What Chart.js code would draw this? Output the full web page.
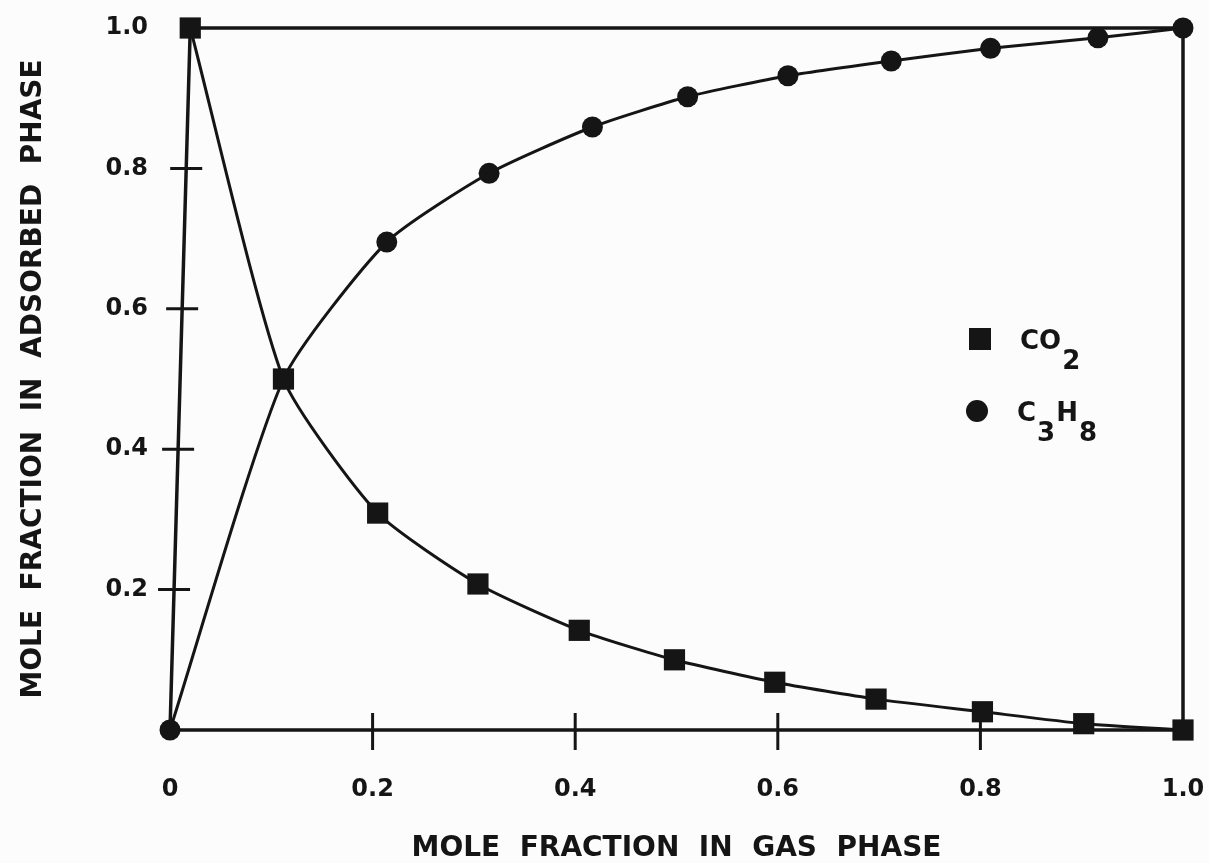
<!DOCTYPE html>
<html>
<head>
<meta charset="utf-8">
<script src="https://cdn.jsdelivr.net/npm/chart.js@4"></script>
<style>
  html, body { margin: 0; padding: 0; background: #fcfcfc; }
  #wrap { width: 1209px; height: 863px; }
</style>
</head>
<body>
<div id="wrap"><canvas id="chart" width="1209" height="863"></canvas></div>
<script>
// values
const co2X = [0.02, 0.112, 0.205, 0.304, 0.404, 0.498, 0.597, 0.697, 0.802, 0.902, 1.0];
const co2Y = [1.0, 0.50, 0.309, 0.208, 0.142, 0.100, 0.068, 0.044, 0.026, 0.009, 0.0];
const c3h8X = [0.0, 0.112, 0.214, 0.315, 0.417, 0.511, 0.61, 0.712, 0.81, 0.916, 1.0];
const c3h8Y = [0.0, 0.50, 0.695, 0.793, 0.859, 0.902, 0.932, 0.953, 0.971, 0.986, 1.0];

// the box round the plot: left side leans from (0,0) up to (0.02,1)
const frameX = [0.0, 0.02, 1.0, 1.0, 0.0];
const frameY = [0.0, 1.0, 1.0, 0.0, 0.0];

const xTickLabels = ['0', '0.2', '0.4', '0.6', '0.8', '1.0'];
const yTickLabels = ['', '0.2', '0.4', '0.6', '0.8', '1.0'];
const tickMarks = [0.2, 0.4, 0.6, 0.8];

const ink = '#151515';
const fontFamily = '"DejaVu Sans", sans-serif';

const toPoints = (xs, ys) => xs.map((x, i) => ({ x: x, y: ys[i] }));

// tick marks that cross the axis lines
const crossTicks = {
    id: 'crossTicks',
    beforeDatasetsDraw(chart) {
        const { ctx, scales } = chart;
        const xs = scales.x, ys = scales.y;
        ctx.save();
        ctx.strokeStyle = ink;
        ctx.lineWidth = 3;
        tickMarks.forEach(v => {
            // y ticks sit on the leaning left side
            const py = ys.getPixelForValue(v);
            const px = xs.getPixelForValue(frameX[1] * v);
            ctx.beginPath();
            ctx.moveTo(px - 16, py);
            ctx.lineTo(px + 16, py);
            ctx.stroke();

            const qx = xs.getPixelForValue(v);
            const qy = ys.getPixelForValue(0);
            ctx.beginPath();
            ctx.moveTo(qx, qy - 17);
            ctx.lineTo(qx, qy + 20);
            ctx.stroke();
        });
        ctx.restore();
    }
};

// legend inside the plot, with subscripts
const formulaLegend = {
    id: 'formulaLegend',
    afterDatasetsDraw(chart) {
        const { ctx } = chart;
        const items = [
            { style: 'rect', x: 980, y: 339, parts: [['CO', 0], ['2', 1]] },
            { style: 'circle', x: 977, y: 411, parts: [['C', 0], ['3', 1], ['H', 0], ['8', 1]] }
        ];
        ctx.save();
        ctx.fillStyle = ink;
        items.forEach(it => {
            ctx.beginPath();
            if (it.style === 'rect') {
                ctx.rect(it.x - 11, it.y - 11, 22, 22);
            } else {
                ctx.arc(it.x, it.y, 11, 0, Math.PI * 2);
            }
            ctx.fill();

            ctx.font = 'bold 26px ' + fontFamily;
            ctx.textBaseline = 'alphabetic';
            let tx = it.x + 40;
            it.parts.forEach(p => {
                const dy = p[1] ? 20 : 0;
                ctx.fillText(p[0], tx, it.y + 10 + dy);
                tx += ctx.measureText(p[0]).width + 1;
            });
        });
        ctx.restore();
    }
};

const paper = {
    id: 'paper',
    beforeDraw(chart) {
        const { ctx, width, height } = chart;
        ctx.save();
        ctx.fillStyle = '#fcfcfc';
        ctx.fillRect(0, 0, width, height);
        ctx.restore();
    }
};

const config = {
    type: 'scatter',
    data: {
        datasets: [
            {
                label: 'frame',
                data: toPoints(frameX, frameY),
                showLine: true,
                borderColor: ink,
                borderWidth: 3.5,
                pointRadius: 0,
                tension: 0,
                order: 3
            },
            {
                label: 'CO2',
                data: toPoints(co2X, co2Y),
                showLine: true,
                borderColor: ink,
                borderWidth: 3,
                backgroundColor: ink,
                pointStyle: 'rect',
                pointRadius: 15,
                pointBorderWidth: 0,
                tension: 0.2,
                order: 2
            },
            {
                label: 'C3H8',
                data: toPoints(c3h8X, c3h8Y),
                showLine: true,
                borderColor: ink,
                borderWidth: 3,
                backgroundColor: ink,
                pointStyle: 'circle',
                pointRadius: 10.5,
                pointBorderWidth: 0,
                tension: 0.2,
                order: 1
            }
        ]
    },
    options: {
        responsive: false,
        animation: false,
        events: [],
        clip: false,
        layout: {
            autoPadding: false,
            padding: { top: 28, right: 26, left: 0, bottom: 0 }
        },
        plugins: {
            legend: { display: false },
            tooltip: { enabled: false }
        },
        scales: {
            x: {
                type: 'linear',
                min: 0,
                max: 1,
                grid: { display: false, drawTicks: false },
                border: { display: false },
                ticks: {
                    stepSize: 0.2,
                    padding: 45,
                    color: ink,
                    maxRotation: 0,
                    font: { family: fontFamily, size: 24, weight: 'bold' },
                    callback: (v) => xTickLabels[Math.round(v * 5)]
                },
                title: {
                    display: true,
                    text: 'MOLE  FRACTION  IN  GAS  PHASE',
                    color: ink,
                    padding: { top: 0, bottom: 0 },
                    font: { family: fontFamily, size: 28, weight: 'bold', lineHeight: 1 }
                },
                afterFit: (scale) => {
                    scale.height = 133;
                    scale.paddingLeft = 0;
                    scale.paddingRight = 0;
                }
            },
            y: {
                type: 'linear',
                min: 0,
                max: 1,
                grid: { display: false, drawTicks: false },
                border: { display: false },
                ticks: {
                    stepSize: 0.2,
                    padding: 22,
                    color: ink,
                    font: { family: fontFamily, size: 24, weight: 'bold' },
                    callback: (v) => yTickLabels[Math.round(v * 5)]
                },
                title: {
                    display: true,
                    text: 'MOLE  FRACTION  IN  ADSORBED  PHASE',
                    color: ink,
                    padding: { top: 20, bottom: 0 },
                    font: { family: fontFamily, size: 28, weight: 'bold', lineHeight: 1 }
                },
                afterFit: (scale) => {
                    scale.width = 170;
                    scale.paddingTop = 0;
                    scale.paddingBottom = 0;
                }
            }
        }
    },
    plugins: [paper, crossTicks, formulaLegend]
};

new Chart(document.getElementById('chart').getContext('2d'), config);
</script>
</body>
</html>
